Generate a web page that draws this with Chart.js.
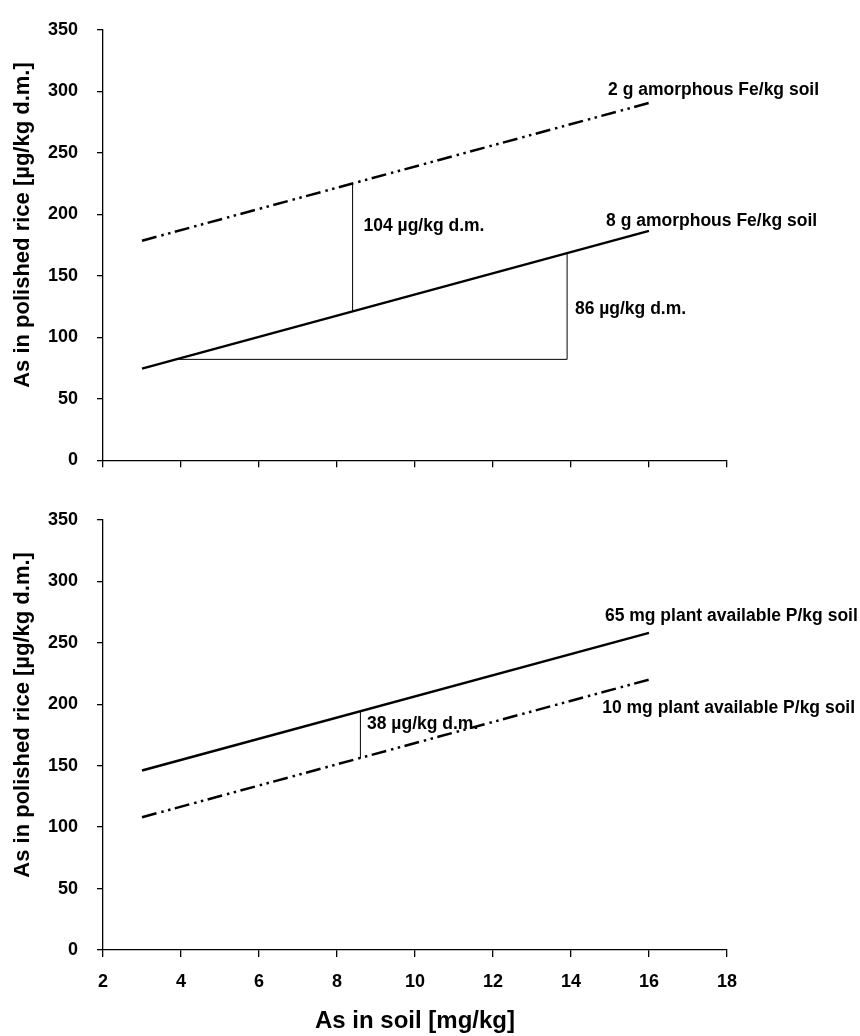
<!DOCTYPE html>
<html>
<head>
<meta charset="utf-8">
<script src="https://cdn.jsdelivr.net/npm/chart.js@4.4.0/dist/chart.umd.min.js"></script>
<style>
    html, body { margin: 0; padding: 0; background: #fff; }
    #wrap { position: relative; width: 860px; height: 1036px; }
    #c1 { position: absolute; left: 0; top: 0; }
    #c2 { position: absolute; left: 0; top: 490px; }
</style>
</head>
<body>
<div id="wrap">
    <canvas id="c1" width="860" height="490"></canvas>
    <canvas id="c2" width="860" height="546"></canvas>
</div>
<script>
// ===== DATA =====
const soilAs = [3, 16];                 // As in soil [mg/kg], start and end of each fitted line
const fe2g = [178.5, 290.5];            // 2 g amorphous Fe/kg soil
const fe8g = [74.5, 186.5];             // 8 g amorphous Fe/kg soil
const p65mg = [146, 258];               // 65 mg plant available P/kg soil
const p10mg = [108, 220];               // 10 mg plant available P/kg soil

// difference markers
const feGapX = [8.4, 8.4];
const feGapY = [121, 225];
const feRiseX = [3.9, 13.9, 13.9];
const feRiseY = [82, 82, 168];
const pGapX = [8.6, 8.6];
const pGapY = [156, 194];

const xTicks = [2, 4, 6, 8, 10, 12, 14, 16, 18];
const yTicks = [0, 50, 100, 150, 200, 250, 300, 350];

const topNotes = ['2 g amorphous Fe/kg soil', '8 g amorphous Fe/kg soil', '104 µg/kg d.m.', '86 µg/kg d.m.'];
const topNoteX = [14.95, 14.9, 8.68, 14.1];
const topNoteY = [301, 194, 190, 123];
const botNotes = ['65 mg plant available P/kg soil', '10 mg plant available P/kg soil', '38 µg/kg d.m.'];
const botNoteX = [14.87, 14.8, 8.77];
const botNoteY = [272, 197, 184];

const yTitle = 'As in polished rice [µg/kg d.m.]';
const xTitle = 'As in soil [mg/kg]';

const FONT = '"Liberation Sans", Arial, sans-serif';
const DASH = [15, 5, 2.5, 4.5, 2.5, 4.5];

function pts(xs, ys) {
    return xs.map((x, i) => ({ x, y: ys[i] }));
}

function mainLine(xs, ys, dashed) {
    return {
        data: pts(xs, ys), showLine: true, pointRadius: 0,
        borderColor: '#000', borderWidth: 2.5, borderDash: dashed ? DASH : [], tension: 0
    };
}

function thinLine(xs, ys) {
    return { data: pts(xs, ys), showLine: true, pointRadius: 0, borderColor: '#000', borderWidth: 1, tension: 0 };
}

// text labels inside the plot + rotated y title
const notesPlugin = {
    id: 'notes',
    afterDraw(chart, args, opts) {
        const { ctx, scales: { x, y } } = chart;
        ctx.save();
        ctx.fillStyle = '#000';
        ctx.font = `bold 17.5px ${FONT}`;
        ctx.textAlign = 'left';
        ctx.textBaseline = 'middle';
        opts.texts.forEach((t, i) => {
            ctx.fillText(t, x.getPixelForValue(opts.xs[i]), y.getPixelForValue(opts.ys[i]));
        });
        ctx.font = `bold 22px ${FONT}`;
        ctx.textAlign = 'center';
        ctx.translate(23, (y.top + y.bottom) / 2 - 20);
        ctx.rotate(-Math.PI / 2);
        ctx.fillText(yTitle, 0, 0);
        ctx.restore();
    }
};

function scalesFor(showX) {
    return {
        x: {
            type: 'linear', min: 2, max: 18,
            afterBuildTicks: s => { s.ticks = xTicks.map(v => ({ value: v })); },
            border: { display: true, color: '#000', width: 1.3 },
            grid: { drawOnChartArea: false, drawTicks: true, tickLength: 7, color: '#000', lineWidth: 1.3 },
            ticks: { display: showX, color: '#000', padding: 14, font: { family: FONT, size: 18, weight: 'bold' } },
            title: {
                display: showX, text: xTitle, color: '#000', padding: 0,
                font: { family: FONT, size: 24, weight: 'bold' }
            },
            afterFit: s => { s.height = showX ? 86 : 19; }
        },
        y: {
            min: 0, max: 350,
            afterBuildTicks: s => { s.ticks = yTicks.map(v => ({ value: v })); },
            border: { display: true, color: '#000', width: 1.3 },
            grid: { drawOnChartArea: false, drawTicks: true, tickLength: 6, color: '#000', lineWidth: 1.3 },
            ticks: { color: '#000', padding: 19, font: { family: FONT, size: 18, weight: 'bold' } },
            afterFit: s => { s.width = 103; }
        }
    };
}

function baseOptions(showX, padTop, notes) {
    return {
        responsive: false, animation: false,
        layout: { padding: { top: padTop, right: 133, left: 0, bottom: 0 } },
        plugins: { legend: { display: false }, tooltip: { enabled: false }, notes },
        scales: scalesFor(showX)
    };
}

new Chart(document.getElementById('c1'), {
    type: 'scatter',
    data: {
        datasets: [
            mainLine(soilAs, fe2g, true),
            mainLine(soilAs, fe8g, false),
            thinLine(feGapX, feGapY),
            thinLine(feRiseX, feRiseY)
        ]
    },
    options: baseOptions(false, 23, { texts: topNotes, xs: topNoteX, ys: topNoteY }),
    plugins: [notesPlugin]
});

new Chart(document.getElementById('c2'), {
    type: 'scatter',
    data: {
        datasets: [
            mainLine(soilAs, p65mg, false),
            mainLine(soilAs, p10mg, true),
            thinLine(pGapX, pGapY)
        ]
    },
    options: baseOptions(true, 13, { texts: botNotes, xs: botNoteX, ys: botNoteY }),
    plugins: [notesPlugin]
});
</script>
</body>
</html>
